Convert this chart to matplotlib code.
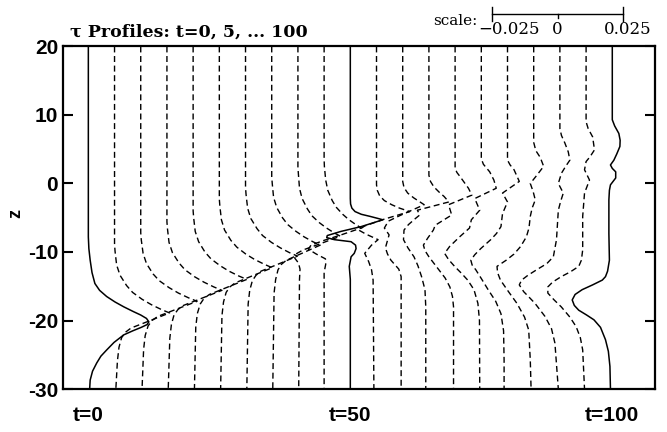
import numpy as np
import matplotlib
matplotlib.use("Agg")
import matplotlib.pyplot as plt
import matplotlib.transforms as mtransforms

plt.rcParams['axes.unicode_minus'] = False

# tau(z) profiles, one every 5 time units: (z, tau) pairs from top to bottom
p00 = [(20, 0), (-7.8, 0), (-9.5, 0.0002), (-11.2, 0.0007), (-13.0, 0.0014), (-14.6, 0.0025),
       (-15.6, 0.0043), (-16.5, 0.007), (-17.3, 0.0102), (-18.0, 0.0135), (-18.7, 0.0172),
       (-19.2, 0.020), (-19.7, 0.0222), (-20.2, 0.0231), (-20.6, 0.0224), (-21.0, 0.0202),
       (-21.5, 0.017), (-22.1, 0.0135), (-23.2, 0.0098), (-24.3, 0.007), (-25.2, 0.0048),
       (-26.2, 0.0032), (-27.4, 0.0016), (-28.7, 0.0007), (-30, 0.0005)]
p05 = [(20, 0), (-8.9, 0), (-9.9, 0.0002), (-11.9, 0.0008), (-13.4, 0.0021), (-14.9, 0.0046),
       (-15.9, 0.0069), (-16.9, 0.0105), (-17.7, 0.0141), (-18.4, 0.0179), (-18.9, 0.021),
       (-20.1, 0.013), (-21.1, 0.0063), (-21.7, 0.0042), (-22.5, 0.0027), (-23.9, 0.0017),
       (-25.9, 0.0011), (-30, 0.0005)]
p10 = [(20, 0), (-7.2, 0), (-8.2, 0.0002), (-10.2, 0.0009), (-11.7, 0.0022), (-13.2, 0.0047),
       (-14.2, 0.0071), (-15.2, 0.0108), (-16.0, 0.0144), (-16.7, 0.0183), (-17.2, 0.0215),
       (-18.4, 0.0133), (-19.4, 0.0065), (-20.0, 0.0043), (-20.8, 0.0028), (-22.2, 0.0017),
       (-24.2, 0.0011), (-30, 0.0005)]
p15 = [(20, 0), (-5.6, 0), (-6.6, 0.0002), (-8.6, 0.0008), (-10.1, 0.0021), (-11.6, 0.0046),
       (-12.6, 0.0069), (-13.6, 0.0105), (-14.4, 0.0141), (-15.1, 0.0179), (-15.6, 0.021),
       (-16.8, 0.013), (-17.8, 0.0063), (-18.4, 0.0042), (-19.2, 0.0027), (-20.6, 0.0017),
       (-22.6, 0.0011), (-30, 0.0005)]
p20 = [(20, 0), (-4.0, 0), (-5.0, 0.0002), (-7.0, 0.0008), (-8.5, 0.0021), (-10.0, 0.0045),
       (-11.0, 0.0068), (-12.0, 0.0103), (-12.8, 0.0137), (-13.5, 0.0174), (-14.0, 0.0205),
       (-15.2, 0.0127), (-16.2, 0.0062), (-16.8, 0.0041), (-17.6, 0.0027), (-19.0, 0.0016),
       (-21.0, 0.001), (-30, 0.0005)]
p25 = [(20, 0), (-2.3, 0), (-3.3, 0.0002), (-5.3, 0.0008), (-6.8, 0.002), (-8.3, 0.0044),
       (-9.3, 0.0067), (-10.3, 0.0101), (-11.1, 0.0135), (-11.8, 0.0172), (-12.3, 0.0202),
       (-13.5, 0.0125), (-14.5, 0.0061), (-15.1, 0.004), (-15.9, 0.0026), (-17.3, 0.0016),
       (-19.3, 0.001), (-30, 0.0005)]
p30 = [(20, 0), (-0.6, 0), (-1.6, 0.0002), (-3.6, 0.0008), (-5.1, 0.002), (-6.6, 0.0044),
       (-7.6, 0.0065), (-8.6, 0.0099), (-9.4, 0.0133), (-10.1, 0.0168), (-10.6, 0.0198),
       (-11.8, 0.0123), (-12.8, 0.0059), (-13.4, 0.004), (-14.2, 0.0026), (-15.6, 0.0016),
       (-17.6, 0.001), (-30, 0.0005)]
p35 = [(20, 0), (1.0, 0), (0.0, 0.0002), (-2.0, 0.0007), (-3.5, 0.0019), (-5.0, 0.0041),
       (-6.0, 0.0061), (-7.0, 0.0093), (-7.8, 0.0124), (-8.5, 0.0157), (-9.0, 0.0185),
       (-10.2, 0.0115), (-11.2, 0.0056), (-11.8, 0.0037), (-12.6, 0.0024), (-14.0, 0.0015),
       (-16.0, 0.0009), (-30, 0.0004)]
p40 = [(20, 0), (2.3, 0), (1.3, 0.0002), (-0.7, 0.0006), (-2.2, 0.0016), (-3.7, 0.0036),
       (-4.7, 0.0053), (-5.7, 0.0081), (-6.5, 0.0109), (-7.2, 0.0138), (-7.7, 0.0162),
       (-8.8, 0.0085), (-9.7, 0.002), (-10.3, -0.0008), (-10.9, -0.0012), (-11.6, 0.0002),
       (-12.5, 0.0008), (-14.0, 0.0006), (-30, 0.0003)]
p45 = [(20, 0), (3.5, 0), (2.5, 0.0001), (0.5, 0.0006), (-1.0, 0.0014), (-2.5, 0.0031),
       (-3.5, 0.0047), (-4.5, 0.0071), (-5.3, 0.0095), (-6.0, 0.0121), (-6.5, 0.0142),
       (-7.5, 0.0065), (-8.3, 0.0), (-9.0, -0.005), (-9.6, -0.006), (-10.3, -0.003),
       (-11.0, 0.0005), (-11.8, 0.0006), (-13.0, 0.0), (-30, 0)]
p50 = [(20, 0), (-2.2, 0), (-3.0, 0.0001), (-3.6, 0.0006), (-4.1, 0.0018), (-4.5, 0.0042),
       (-4.8, 0.0075), (-5.1, 0.0105), (-5.3, 0.0124), (-6.3, 0.0041), (-7.0, -0.0036),
       (-7.6, -0.0088), (-7.9, -0.009), (-8.2, -0.0061), (-8.5, 0.0003), (-9.0, 0.002),
       (-9.5, 0.0022), (-10.2, 0.0015), (-10.7, 0.0003), (-12.1, -0.0004), (-14.0, 0), (-30, 0)]
p55 = [(20, 0), (-0.2, 0), (-1.0, 0.0003), (-1.8, 0.0012), (-2.5, 0.003), (-3.1, 0.0058),
       (-3.6, 0.0088), (-4.1, 0.0127), (-5.2, 0.003), (-6.2, -0.0045), (-6.8, -0.0068),
       (-7.4, -0.004), (-8.2, 0.0006), (-9.0, -0.0019), (-10.2, -0.0045), (-11.4, -0.003),
       (-12.6, -0.0019), (-14.1, -0.0013), (-30, -0.001)]
p60 = [(20, 0), (0.3, 0), (-0.6, 0.0005), (-1.4, 0.0019), (-2.1, 0.0042), (-2.7, 0.0066),
       (-3.1, 0.0082), (-4.6, -0.0006), (-5.5, -0.0055), (-6.5, -0.007), (-7.5, -0.0052),
       (-8.3, -0.0058), (-9.4, -0.0066), (-10.3, -0.0058), (-11.2, -0.0045), (-12.5, -0.0015),
       (-13.6, -0.0006), (-30, -0.0006)]
p65 = [(20, 0), (1.2, 0), (0.3, 0.0006), (-0.5, 0.0019), (-1.3, 0.004), (-1.9, 0.0058),
       (-2.7, 0.0076), (-3.9, -0.0044), (-4.6, -0.0035), (-5.1, -0.0051), (-6.0, -0.0078),
       (-6.8, -0.0095), (-8.2, -0.0097), (-9.4, -0.008), (-10.7, -0.0057), (-12.0, -0.0042),
       (-13.6, -0.0028), (-15.5, -0.0015), (-18.0, -0.0012), (-30, -0.0012)]
p70 = [(20, 0), (2.2, 0), (1.6, 0.0007), (1.0, 0.0019), (-0.7, 0.0051), (-1.7, 0.0064),
       (-3.1, -0.0025), (-4.6, -0.0013), (-6.1, -0.0076), (-6.8, -0.0083), (-8.0, -0.0105),
       (-9.0, -0.0121), (-9.8, -0.0115), (-10.7, -0.010), (-11.6, -0.0082), (-12.6, -0.0062),
       (-13.8, -0.0038), (-15.1, -0.002), (-16.5, -0.001), (-18.0, -0.0006), (-30, -0.0006)]
p75 = [(20, 0), (3.6, 0), (2.8, 0.0008), (1.7, 0.0032), (0.5, 0.0048), (-0.7, 0.0057),
       (-2.2, -0.0025), (-3.9, -0.0006), (-5.3, -0.0038), (-6.5, -0.0045), (-7.8, -0.0083),
       (-9.2, -0.0121), (-10.2, -0.014), (-11.1, -0.0125), (-12.1, -0.0102), (-13.1, -0.0076),
       (-14.1, -0.0052), (-15.5, -0.0028), (-17.5, -0.0013), (-20.0, -0.0007), (-30, -0.0006)]
p80 = [(20, 0), (3.4, 0), (2.7, 0.001), (2.0, 0.0025), (0.3, 0.0045), (-1.4, -0.0019),
       (-2.7, 0.0), (-4.4, -0.0019), (-6.3, -0.0025), (-7.3, -0.0042), (-8.2, -0.0064),
       (-9.5, -0.0102), (-10.4, -0.0125), (-11.2, -0.014), (-11.9, -0.0135), (-12.6, -0.0121),
       (-14.0, -0.0098), (-15.5, -0.0074), (-17.2, -0.0045), (-19.0, -0.0025), (-21.5, -0.0015),
       (-25.8, -0.0013), (-30, -0.0013)]
p85 = [(20, 0), (6.0, 0), (4.8, 0.0008), (3.8, 0.0025), (2.5, 0.0038), (1.2, 0.0012),
       (0.0, -0.0013), (-1.2, -0.0002), (-2.4, 0.0006), (-3.6, -0.0006), (-4.8, -0.0013),
       (-6.5, -0.0018), (-7.8, -0.0028), (-9.2, -0.005), (-10.3, -0.0075), (-11.2, -0.0105),
       (-12.1, -0.014), (-13.0, -0.0138), (-14.1, -0.0127), (-15.8, -0.0096), (-17.5, -0.0064),
       (-19.5, -0.0035), (-21.4, -0.0019), (-25.8, -0.0013), (-30, -0.001)]
p90 = [(20, 0), (8.0, 0), (7.0, 0.0006), (5.9, 0.0019), (4.6, 0.0032), (3.4, 0.0038),
       (2.5, 0.0022), (1.5, 0.0006), (0.0, -0.0006), (-1.4, 0.0013), (-2.6, 0.0003),
       (-3.9, -0.0006), (-8.2, -0.0013), (-10.7, -0.0025), (-11.7, -0.005), (-12.6, -0.0089),
       (-13.4, -0.0122), (-14.1, -0.0146), (-14.8, -0.0155), (-15.8, -0.0138), (-16.7, -0.0115),
       (-17.5, -0.0095), (-19.4, -0.0057), (-21.2, -0.0032), (-23.3, -0.0019), (-30, -0.0006)]
p95 = [(20, 0), (9.0, 0), (8.0, 0.0008), (6.8, 0.0025), (4.9, 0.0032), (3.9, 0.0015),
       (3.2, 0.0), (2.0, -0.0006), (0.5, 0.0013), (-0.5, 0.0003), (-1.4, -0.0006),
       (-4.8, -0.0013), (-9.7, -0.0013), (-11.2, -0.0018), (-12.1, -0.0028), (-12.9, -0.006),
       (-13.6, -0.0095), (-14.4, -0.0128), (-15.1, -0.0146), (-16.0, -0.0146), (-17.0, -0.0122),
       (-18.0, -0.0095), (-19.5, -0.0062), (-20.9, -0.0038), (-22.5, -0.0022), (-24.3, -0.0013),
       (-30, -0.0006)]
p100 = [(20, 0), (9.3, 0), (8.4, 0.0009), (7.3, 0.0025), (6.3, 0.003), (5.4, 0.0029),
        (4.3, 0.0017), (3.4, 0.0006), (2.7, -0.0007), (2.2, 0.0), (1.7, 0.0013), (0.8, 0.0013),
        (-0.2, -0.0007), (-1.0, -0.0011), (-2.4, -0.0013), (-7.3, -0.0013), (-11.2, -0.0011),
        (-12.8, -0.0018), (-13.6, -0.0026), (-14.1, -0.0038), (-14.8, -0.0075), (-15.5, -0.0115),
        (-16.2, -0.0142), (-17.0, -0.0153), (-17.8, -0.0145), (-18.5, -0.0128), (-19.2, -0.0098),
        (-19.9, -0.007), (-21.0, -0.0045), (-22.8, -0.0026), (-24.5, -0.0015), (-26.7, -0.0009),
        (-30, -0.0007)]

profiles = [p00, p05, p10, p15, p20, p25, p30, p35, p40, p45, p50,
            p55, p60, p65, p70, p75, p80, p85, p90, p95, p100]
times = list(range(0, 101, 5))
solid_times = [0, 50, 100]
offset = 0.01  # horizontal shift between successive profiles (tau units)

z_ticks = [-30, -20, -10, 0, 10, 20]
t_labels = ["t=0", "t=50", "t=100"]
scale_ticks = [-0.025, 0, 0.025]
scale_labels = ["\u22120.025", "0", "0.025"]

fig = plt.figure(figsize=(6.67, 4.32), dpi=100)
ax = fig.add_axes([0.0945, 0.0995, 0.8875, 0.793])

for t, prof in zip(times, profiles):
    z, tau = zip(*prof)
    x = offset * t / 5 + np.array(tau)
    if t in solid_times:
        ax.plot(x, z, color='black', lw=1.1, solid_joinstyle='round')
    else:
        ax.plot(x, z, color='black', lw=1.0, dashes=(4.3, 2.6), dash_capstyle='butt')

ax.set_xlim(-0.00966, 0.2163)
ax.set_ylim(-30, 20)

ax.set_yticks(z_ticks)
ax.set_yticklabels([str(v) for v in z_ticks])
ax.tick_params(axis='y', which='both', direction='in', length=7, width=1.5,
               left=True, right=True, pad=3.5, labelsize=15)
for lab in ax.get_yticklabels():
    lab.set_fontfamily('Liberation Sans')
    lab.set_fontweight('bold')

ax.set_xticks([0, 0.1, 0.2])
ax.set_xticklabels(t_labels)
ax.tick_params(axis='x', length=0, pad=12, labelsize=15)
for lab in ax.get_xticklabels():
    lab.set_fontfamily('Liberation Sans')
    lab.set_fontweight('bold')

for sp in ax.spines.values():
    sp.set_linewidth(1.6)

fig.text(16 / 667, 1 - 214 / 432, "z", rotation=90, ha='center', va='center',
         fontsize=13, fontweight='bold', family='Liberation Sans')

fig.text(70 / 667, 1 - 32 / 432, "\u03c4 Profiles: t=0, 5, ... 100", ha='left', va='center',
         fontsize=12.5, fontweight='bold', family='DejaVu Serif')

# scale bar drawn in tau units above the axes
bar_center = 0.1792
trans = mtransforms.blended_transform_factory(ax.transData, fig.transFigure)
y_bar = 1 - 14 / 432
ax.plot([bar_center + scale_ticks[0], bar_center + scale_ticks[-1]], [y_bar, y_bar],
        color='black', lw=1.0, transform=trans, clip_on=False)
for s in scale_ticks:
    half = 7 / 432 if s != 0 else 4 / 432
    ax.plot([bar_center + s, bar_center + s], [y_bar - half, y_bar + (half if s != 0 else 0)],
            color='black', lw=1.0, transform=trans, clip_on=False)
label_px = [509, 557, 628]
for px, lab in zip(label_px, scale_labels):
    fig.text(px / 667, 1 - 29 / 432, lab, ha='center', va='center',
             fontsize=12, family='DejaVu Serif')
fig.text(477 / 667, 1 - 21 / 432, "scale:", ha='right', va='center', fontsize=11,
         family='DejaVu Serif')

fig.savefig("out.png", dpi=100)
